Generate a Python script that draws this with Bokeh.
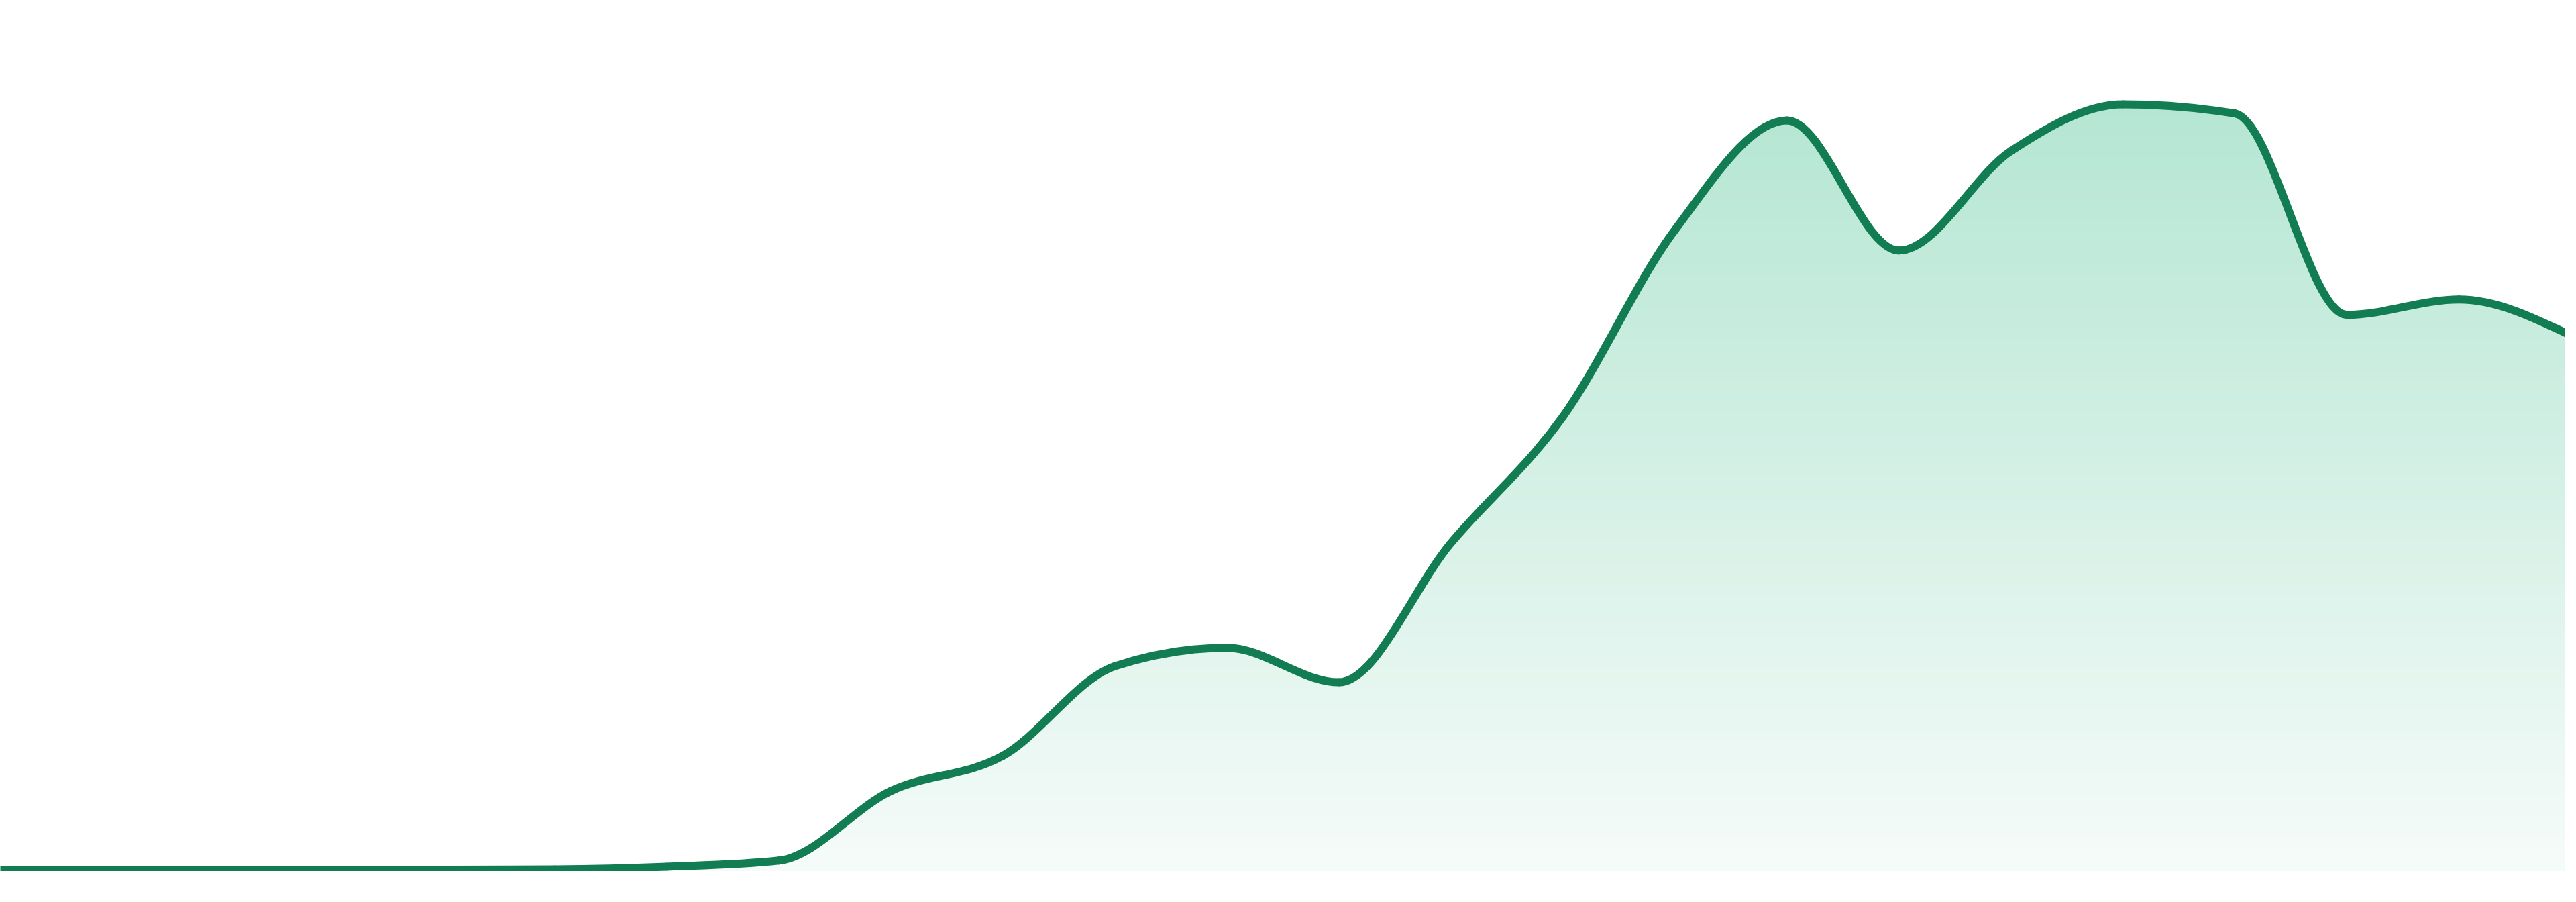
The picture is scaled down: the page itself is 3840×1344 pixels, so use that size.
import numpy as np
from bokeh.plotting import figure
from bokeh.models import Range1d, ColumnDataSource
from bokeh.embed import file_html
from bokeh.resources import INLINE

# ---- data ----
index = list(range(24))
values = [0.0, 0.0, 0.0, 0.0, 0.0, 0.05, 0.4, 1.2, 10.3, 14.9, 26.6, 29.0,
          24.5, 42.7, 59.2, 83.6, 97.9, 80.9, 93.9, 100.0, 98.8, 72.5, 74.5, 69.8]

line_color = "#127c52"
fill_top = (181, 230, 211)
fill_bottom = (245, 251, 249)

x = np.array(index, dtype=float)
y = np.array(values, dtype=float)


# monotone-x cubic tangents (as in d3.curveMonotoneX)
def monotone_tangents(x, y):
    n = len(x)
    h = np.diff(x)
    s = np.diff(y) / h
    t = np.zeros(n)
    for i in range(1, n - 1):
        h0, h1, s0, s1 = h[i - 1], h[i], s[i - 1], s[i]
        p = (s0 * h1 + s1 * h0) / (h0 + h1)
        sg0 = -1.0 if s0 < 0 else 1.0
        sg1 = -1.0 if s1 < 0 else 1.0
        t[i] = (sg0 + sg1) * min(abs(s0), abs(s1), 0.5 * abs(p))
    t[0] = (3 * s[0] - t[1]) / 2
    t[-1] = (3 * s[-1] - t[-2]) / 2
    return t


t = monotone_tangents(x, y)
dx = np.diff(x) / 3.0
x0, x1 = x[:-1], x[1:]
y0, y1 = y[:-1], y[1:]
cx0 = x0 + dx
cy0 = y0 + dx * t[:-1]
cx1 = x1 - dx
cy1 = y1 - dx * t[1:]

# sampled outline of the same bezier segments, for the area fill
u = np.linspace(0, 1, 60)[:, None]
bx = ((1 - u) ** 3 * x0 + 3 * (1 - u) ** 2 * u * cx0 + 3 * (1 - u) * u ** 2 * cx1 + u ** 3 * x1).T.ravel()
by = ((1 - u) ** 3 * y0 + 3 * (1 - u) ** 2 * u * cy0 + 3 * (1 - u) * u ** 2 * cy1 + u ** 3 * y1).T.ravel()

p = figure(width=3824, height=1298, output_backend="svg", toolbar_location=None,
           x_range=Range1d(0.0479, 22.952), y_range=Range1d(-0.219, 113.59),
           min_border=0)
p.xaxis.visible = False
p.yaxis.visible = False
p.grid.visible = False
p.outline_line_color = None
p.background_fill_color = "white"
p.border_fill_color = "white"

# vertical gradient fill built from stacked areas
vmax = float(max(values))
base = -0.3
N = 72
for k in range(N):
    hi = vmax * (1 - k / N)
    mid = hi - 0.5 * vmax / N
    f = max(0.0, min(1.0, mid / vmax))
    col = tuple(int(round(fill_bottom[j] + (fill_top[j] - fill_bottom[j]) * f)) for j in range(3))
    top = by if k == 0 else np.minimum(by, hi)
    src = ColumnDataSource(dict(x=bx, y1=np.full_like(bx, base), y2=top))
    p.varea(x="x", y1="y1", y2="y2", source=src,
            fill_color="#%02x%02x%02x" % col, fill_alpha=1.0)

seg = ColumnDataSource(dict(x0=x0, y0=y0, x1=x1, y1=y1, cx0=cx0, cy0=cy0, cx1=cx1, cy1=cy1))
p.bezier(x0="x0", y0="y0", x1="x1", y1="y1", cx0="cx0", cy0="cy0", cx1="cx1", cy1="cy1",
         source=seg, line_color=line_color, line_width=12, line_cap="round")

open("out.html", "w").write(file_html(p, INLINE))
